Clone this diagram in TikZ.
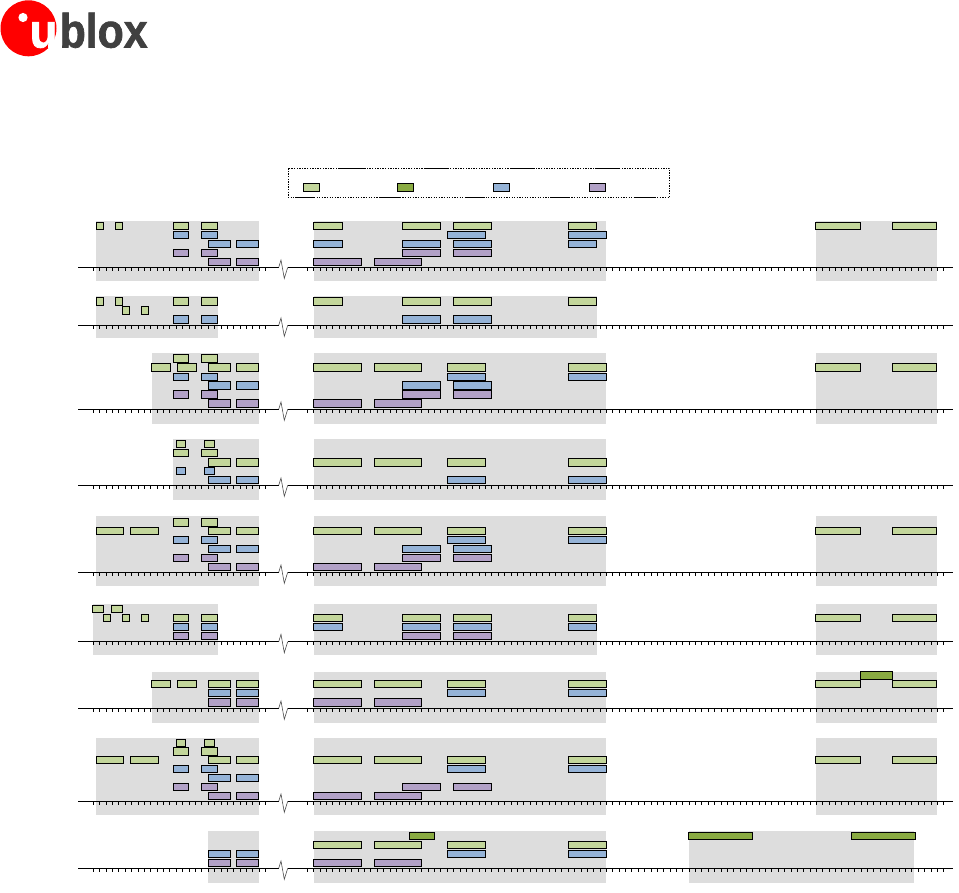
\documentclass[tikz,border=0pt]{standalone}
\usepackage{fontspec}
\setmainfont{Liberation Sans}
\newfontfamily\logofont[FakeBold=1.6]{Liberation Sans Bold}
\definecolor{cPhyA}{HTML}{C3D69B}
\definecolor{cPhyB}{HTML}{8AAB42}
\definecolor{cPhyC}{HTML}{95B3D7}
\definecolor{cPhyD}{HTML}{B2A1C7}
\definecolor{cBand}{HTML}{DDDDDD}
\definecolor{cLogo}{HTML}{FF0000}
\definecolor{cInk}{HTML}{404040}
\def\wLine{1.0pt}
\tikzset{
  burst/.style={draw=black, line width=\wLine},
  pa/.style={burst, fill=cPhyA},
  pb/.style={burst, fill=cPhyB},
  pc/.style={burst, fill=cPhyC},
  pd/.style={burst, fill=cPhyD},
  band/.style={fill=cBand, draw=none},
  axis/.style={draw=black, line width=1.0pt},
  tick/.style={draw=black, line width=0.9pt},
  brk/.style={draw=black!70, line width=0.6pt},
  legend/.style={draw=black, line width=0.8pt, dash pattern=on 1.3pt off 1.3pt},
  logotext/.style={font=\logofont\fontsize{48}{48}\selectfont, inner sep=0pt, anchor=base west},
}
% one lane: style, top, bottom, list of x spans
\newcommand{\lane}[4]{\foreach \xa/\xb in {#4}{\draw[#1] (\xa,#2) rectangle (\xb,#3);}}
% grey bands of one row: top, bottom, list of x spans
\newcommand{\bands}[3]{\foreach \xa/\xb in {#3}{\fill[band] (\xa,#1) rectangle (\xb,#2);}}
% time axis with break
\newcommand{\timeline}[1]{
  \draw[axis] (78,#1) -- (278.7,#1);
  \draw[axis] (288,#1) -- (952.7,#1);
  \draw[brk] (278.7,#1) -- (281,#1-7.3) -- (284.3,#1+11) -- (287.7,#1);
  \foreach \i in {0,...,27}{\draw[tick] ({93.3+6.385*\i},#1) -- ++(0,3.3);}
  \foreach \i in {0,...,100}{\draw[tick] ({307.3+6.364*\i},#1) -- ++(0,3.3);}
}
\begin{document}
\begin{tikzpicture}[x=1pt, y=-1pt]
\useasboundingbox (0,0) rectangle (959,893);
% ---- logo
\fill[cLogo] (28.5,28.3) circle (28);
\fill[white] (23,17.5) circle (4.6);
\node[logotext, text=white, xscale=0.95] (logou) at (29.5,47.5) {u};
\node[logotext, text=cInk, xscale=0.89] (logob) at (59.5,47.5) {blox};

% ---- legend
\draw[legend] (288.3,168.3) rectangle (669.7,197.3);
\foreach \xa in {340,425,510,595}{\draw[draw=black, line width=0.8pt] (\xa,168.3) -- ++(23.5,0);}
\foreach \xa in {295,380,465,550,635}{\draw[draw=black, line width=0.8pt] (\xa,197.3) -- ++(20,0);}
\lane{pa}{183.3}{191.5}{303.3/319.7}
\lane{pb}{183.3}{191.5}{397.3/413.7}
\lane{pc}{183.3}{191.5}{493.3/509.7}
\lane{pd}{183.3}{191.5}{589.3/605.7}

% ---- row 1
\bands{221}{280.7}{96/259,314/606,816/937}
\timeline{267.4}
\lane{pa}{222.3}{229.7}{96.3/103.7,115.3/122.7,173.3/188.7,201.3/217.7,313.3/342.7,402.3/440.7,453.3/491.7,568.3/596.7,815.3/860.7,892.3/936.7}
\lane{pc}{231.3}{238.7}{173.3/188.7,201.3/217.7,447.3/485.7,568.3/606.7}
\lane{pc}{240.3}{247.7}{208.3/230.3,236.3/258.3,313.3/342.7,402.3/440.7,453.3/491.7,568.3/596.7}
\lane{pd}{249.3}{256.7}{173.3/188.7,201.3/217.7,402.3/440.7,453.3/491.7}
\lane{pd}{258.3}{265.7}{208.3/230.3,236.3/258.3,313.3/361.7,374.3/421.7}

% ---- row 2
\bands{296}{338}{96/217.5,314/597}
\timeline{325.3}
\lane{pa}{297.3}{305.3}{96.3/103.7,115.3/122.7,173.3/188.7,201.3/217.7,313.3/342.7,402.3/440.7,453.3/491.7,568.3/596.7}
\lane{pa}{306.3}{314.3}{122.3/129.7,141.3/148.7}
\lane{pc}{315.3}{323.3}{173.3/188.7,201.3/217.7,402.3/440.7,453.3/491.7}

% ---- row 3
\bands{353}{423.7}{152/259,314/606,816/937}
\timeline{409.3}
\lane{pa}{354.3}{362.3}{173.3/188.7,201.3/217.7}
\lane{pa}{363.5}{371.7}{151.3/170.7,177.3/196.7,208.3/230.3,236.3/258.3,313.3/361.7,374.3/421.7,447.3/485.7,568.3/606.7,815.3/860.7,892.3/936.7}
\lane{pc}{373.3}{380.7}{173.3/188.7,201.3/217.7,447.3/485.7,568.3/606.7}
\lane{pc}{381.3}{389.7}{208.3/230.3,236.3/258.3,402.3/440.7,453.3/491.7}
\lane{pd}{390.3}{398.7}{173.3/188.7,201.3/217.7,402.3/440.7,453.3/491.7}
\lane{pd}{399.3}{407.7}{208.3/230.3,236.3/258.3,313.3/361.7,374.3/421.7}

% ---- row 4
\bands{439}{500}{173/259,314/606}
\timeline{485.3}
\lane{pa}{440.3}{447.7}{176.3/185.7,204.3/214.7}
\lane{pa}{449.3}{456.7}{173.3/188.7,201.3/217.7}
\lane{pa}{458.3}{466.3}{208.3/230.3,236.3/258.3,313.3/361.7,374.3/421.7,447.3/485.7,568.3/606.7}
\lane{pc}{467.3}{474.7}{176.3/185.7,204.3/214.7}
\lane{pc}{476.3}{483.7}{208.3/230.3,236.3/258.3,447.3/485.7,568.3/606.7}

% ---- row 5
\bands{516}{586}{96/259,314/606,816/937}
\timeline{572.3}
\lane{pa}{518.3}{526.3}{173.3/188.7,201.3/217.7}
\lane{pa}{527.3}{534.7}{96.3/123.7,130.3/158.7,208.3/230.3,236.3/258.3,313.3/361.7,374.3/421.7,447.3/485.7,568.3/606.7,815.3/860.7,892.3/936.7}
\lane{pc}{536.3}{543.7}{173.3/188.7,201.3/217.7,447.3/485.7,568.3/606.7}
\lane{pc}{545.3}{552.7}{208.3/230.3,236.3/258.3,402.3/440.7,453.3/491.7}
\lane{pd}{554.3}{561.7}{173.3/188.7,201.3/217.7,402.3/440.7,453.3/491.7}
\lane{pd}{563.3}{570.7}{208.3/230.3,236.3/258.3,313.3/361.7,374.3/421.7}

% ---- row 6
\bands{604}{655}{93/218,314/597,816/937}
\timeline{641.7}
\lane{pa}{605.3}{612.7}{92.3/103.7,111.3/122.7}
\lane{pa}{614.3}{621.7}{103.3/110.7,122.3/129.7,141.3/148.7,173.3/188.7,201.3/217.7,313.3/342.7,402.3/440.7,453.3/491.7,568.3/596.7,815.3/860.7,892.3/936.7}
\lane{pc}{623.3}{630.7}{173.3/188.7,201.3/217.7,313.3/342.7,402.3/440.7,453.3/491.7,568.3/596.7}
\lane{pd}{632.3}{639.7}{173.3/188.7,201.3/217.7,402.3/440.7,453.3/491.7}

% ---- row 7
\bands{672}{723}{152/259,314/606,816/937}
\timeline{708.3}
\lane{pb}{671.3}{679.3}{860.3/892.3}
\lane{pa}{680.3}{687.7}{151.3/170.7,177.3/196.7,208.3/230.3,236.3/258.3,313.3/361.7,374.3/421.7,447.3/485.7,568.3/606.7,815.3/860.7,892.3/936.7}
\lane{pc}{689.3}{696.7}{208.3/230.3,236.3/258.3,447.3/485.7,568.3/606.7}
\lane{pd}{698.3}{706.7}{208.3/230.3,236.3/258.3,313.3/361.7,374.3/421.7}

% ---- row 8
\bands{738}{815}{96/259,314/606,816/937}
\timeline{801.3}
\lane{pa}{739.3}{746.7}{176.3/185.7,204.3/214.7}
\lane{pa}{747.3}{755.7}{173.3/188.7,201.3/217.7}
\lane{pa}{756.3}{763.7}{96.3/123.7,130.3/158.7,208.3/230.3,236.3/258.3,313.3/361.7,374.3/421.7,447.3/485.7,568.3/606.7,815.3/860.7,892.3/936.7}
\lane{pc}{765.3}{772.7}{173.3/188.7,201.3/217.7,447.3/485.7,568.3/606.7}
\lane{pc}{774.3}{781.7}{208.3/230.3,236.3/258.3}
\lane{pd}{783.3}{790.7}{173.3/188.7,201.3/217.7,402.3/440.7,453.3/491.7}
\lane{pd}{792.3}{799.7}{208.3/230.3,236.3/258.3,313.3/361.7,374.3/421.7}

% ---- row 9
\bands{831}{883}{208/259,314/606,689/914}
\timeline{868.3}
\lane{pb}{832.3}{839.7}{409.3/434.7,688.3/752.7,851.3/915.7}
\lane{pa}{841.3}{848.7}{313.3/361.7,374.3/421.7,447.3/485.7,568.3/606.7}
\lane{pc}{850.3}{857.7}{208.3/230.3,236.3/258.3,447.3/485.7,568.3/606.7}
\lane{pd}{859.3}{866.7}{208.3/230.3,236.3/258.3,313.3/361.7,374.3/421.7}
\end{tikzpicture}
\end{document}
